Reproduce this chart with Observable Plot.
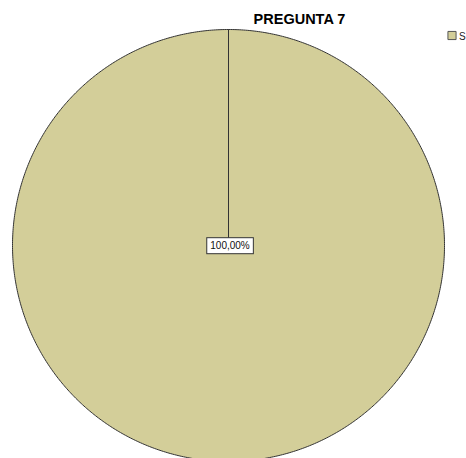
<!DOCTYPE html>
<html><head><meta charset="utf-8">
<script src="https://cdn.jsdelivr.net/npm/d3@7"></script>
<script src="https://cdn.jsdelivr.net/npm/@observablehq/plot@0.6"></script>
<style>body{margin:0;background:#fff;font-family:"Liberation Sans",Arial,sans-serif}</style>
</head><body><div id="chart"></div>
<script>
const title = "PREGUNTA 7";
const categories = ["S"];
const values = [100];
const percentLabels = ["100,00%"];
const colors = ["#D3CE99"];

const arcs = d3.pie().sort(null).value(d => d)(values);
const steps = 720;
const pts = [];
arcs.forEach((a, i) => {
  const cat = categories[i];
  pts.push({cat, x: 0, y: 0});
  for (let k = 0; k <= steps; k++) {
    const t = a.startAngle + (a.endAngle - a.startAngle) * k / steps;
    pts.push({cat, x: Math.sin(t), y: Math.cos(t)});
  }
  pts.push({cat, x: 0, y: 0});
});
const labels = arcs.map((a, i) => {
  const full = a.endAngle - a.startAngle >= 2 * Math.PI - 1e-6;
  const m = (a.startAngle + a.endAngle) / 2;
  const r = full ? 0 : 0.6;
  return {text: percentLabels[i], x: r * Math.sin(m), y: r * Math.cos(m)};
});

const chart = Plot.plot({
  width: 466, height: 458,
  margin: 0,
  style: {fontFamily: '"Liberation Sans", Arial, sans-serif', background: "#fff", overflow: "hidden"},
  x: {domain: [-1, 1], range: [12, 444], axis: null},
  y: {domain: [-1, 1], range: [461, 29], axis: null},
  color: {domain: categories, range: colors},
  marks: [
    Plot.line(pts, {x: "x", y: "y", z: "cat", fill: "cat", stroke: "#333", strokeWidth: 1, curve: "linear"}),
    Plot.text(labels, {x: "x", y: "y", text: "text", fontSize: 10, fill: "#111", dx: 1.5, dy: 0.5}),
    Plot.text([title], {frameAnchor: "top", dx: 66, dy: 19, lineAnchor: "middle", textAnchor: "middle", fontWeight: "bold", fontSize: 14.5, fill: "#000"}),
    Plot.dot(categories, {frameAnchor: "top-right", dx: -14.5, dy: 35, symbol: "square", r: 4.6, fill: d => d, stroke: "#555", strokeWidth: 1}),
    Plot.text(categories, {frameAnchor: "top-right", dx: -7.5, dy: 36, textAnchor: "start", lineAnchor: "middle", fontSize: 10, fill: "#222"})
  ]
});
document.getElementById("chart").appendChild(chart);

d3.select(chart).selectAll("text").each(function() {
  if (percentLabels.includes(this.textContent)) {
    const b = this.getBBox();
    d3.select(this.parentNode).insert("rect", () => this)
      .attr("transform", this.getAttribute("transform"))
      .attr("x", b.x - 3.5).attr("y", b.y - 2.5)
      .attr("width", b.width + 7).attr("height", b.height + 5)
      .attr("fill", "#fff").attr("stroke", "#333").attr("stroke-width", 1);
  }
});
</script></body></html>
